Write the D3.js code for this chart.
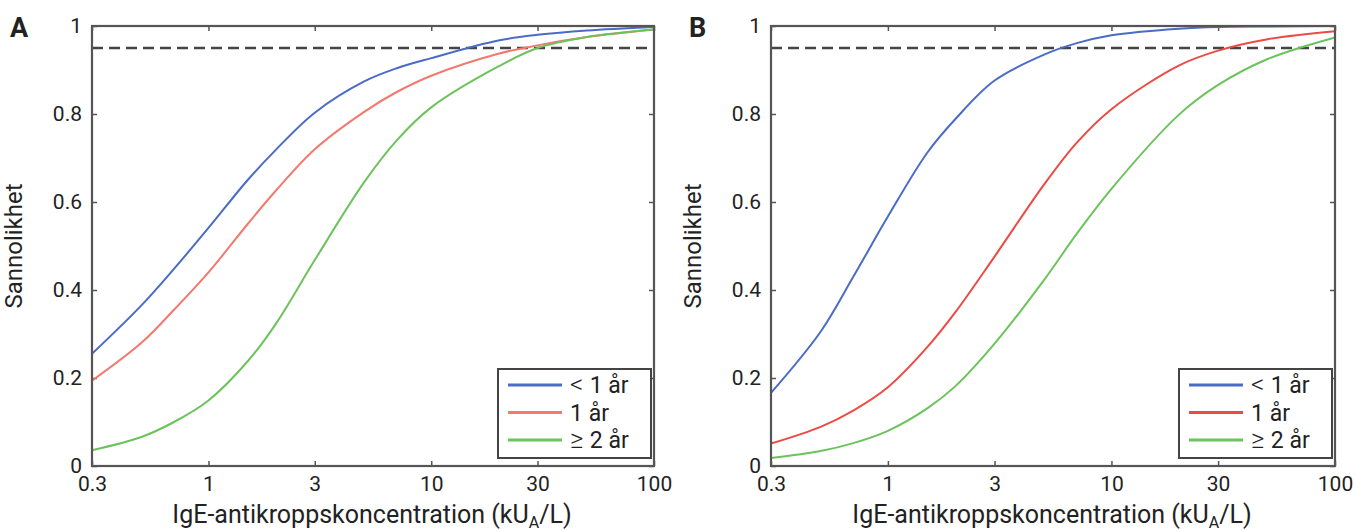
<!DOCTYPE html>
<html lang="sv">
<head>
    <meta charset="UTF-8">
    <title>Sannolikhet vs IgE</title>
    <script src="https://d3js.org/d3.v7.min.js"></script>
    <style type="text/css">
        body {
            margin: 0;
            background: #fff;
        }

        svg text {
            font-family: Roboto, "DejaVu Sans", sans-serif;
            fill: #222;
        }

        .tick line {
            stroke: #555;
            stroke-width: 1.5;
        }
    </style>
</head>

<body>
    <div id="chart"></div>
    <script type="text/javascript">
        // concentration points (kU_A/L)
        var conc = [0.3, 0.5, 0.7, 1, 1.5, 2, 3, 5, 7, 10, 20, 30, 50, 100];

        var seriesSymbols = ['<', '', '\u2265'];
        var seriesNames = ['1 år', '1 år', '2 år'];

        // panel A
        var aUnder1 = [0.255, 0.365, 0.448, 0.541, 0.650, 0.718, 0.803, 0.874, 0.904, 0.927, 0.967, 0.980, 0.990, 0.998];
        var aOne = [0.194, 0.280, 0.355, 0.440, 0.550, 0.625, 0.720, 0.805, 0.850, 0.887, 0.937, 0.956, 0.975, 0.992];
        var aTwoPlus = [0.036, 0.066, 0.100, 0.149, 0.238, 0.322, 0.468, 0.645, 0.740, 0.815, 0.908, 0.950, 0.975, 0.992];

        // panel B
        var bUnder1 = [0.166, 0.305, 0.430, 0.567, 0.712, 0.788, 0.876, 0.935, 0.961, 0.979, 0.994, 0.998, 0.999, 1.0];
        var bOne = [0.051, 0.089, 0.126, 0.179, 0.270, 0.349, 0.476, 0.640, 0.735, 0.811, 0.910, 0.944, 0.970, 0.988];
        var bTwoPlus = [0.018, 0.034, 0.052, 0.080, 0.131, 0.181, 0.278, 0.423, 0.528, 0.630, 0.798, 0.866, 0.925, 0.974];

        var xTicks = [0.3, 1, 3, 10, 30, 100];
        var xTickLabels = ['0.3', '1', '3', '10', '30', '100'];
        var yTicks = [0, 0.2, 0.4, 0.6, 0.8, 1];
        var yTickLabels = ['0', '0.2', '0.4', '0.6', '0.8', '1'];
        var threshold = 0.95;

        var w = 1356, h = 531;
        var svg = d3.select('#chart').append('svg')
            .attr('width', w)
            .attr('height', h);

        var panels = [
            { letter: 'A', left: 92, right: 654, series: [aUnder1, aOne, aTwoPlus],
              colors: ['#4a6cc6', '#f3786f', '#6cc35c'] },
            { letter: 'B', left: 771, right: 1335, series: [bUnder1, bOne, bTwoPlus],
              colors: ['#4a6cc6', '#ec4b45', '#6cc35c'] }
        ];
        var plotTop = 26, plotBottom = 466;

        panels.forEach(function (p) {
            var x = d3.scaleLog().domain([0.3, 100]).range([p.left, p.right]);
            var y = d3.scaleLinear().domain([0, 1]).range([plotBottom, plotTop]);
            var g = svg.append('g');

            // ticks on all four sides, pointing inward
            g.append('g')
                .attr('transform', 'translate(0,' + plotBottom + ')')
                .call(d3.axisBottom(x).tickValues(xTicks).tickSize(-5).tickPadding(10)
                    .tickFormat(function (d, i) { return xTickLabels[i]; }))
                .call(function (a) { a.select('.domain').remove(); })
                .selectAll('text').attr('font-size', 21).attr('fill', '#1a1a1a');

            g.append('g')
                .attr('transform', 'translate(0,' + plotTop + ')')
                .call(d3.axisTop(x).tickValues(xTicks).tickSize(-5).tickFormat(''))
                .call(function (a) { a.select('.domain').remove(); });

            g.append('g')
                .attr('transform', 'translate(' + p.left + ',0)')
                .call(d3.axisLeft(y).tickValues(yTicks).tickSize(-5).tickPadding(10)
                    .tickFormat(function (d, i) { return yTickLabels[i]; }))
                .call(function (a) { a.select('.domain').remove(); })
                .selectAll('text').attr('font-size', 21).attr('fill', '#1a1a1a');

            g.append('g')
                .attr('transform', 'translate(' + p.right + ',0)')
                .call(d3.axisRight(y).tickValues(yTicks).tickSize(-5).tickFormat(''))
                .call(function (a) { a.select('.domain').remove(); });

            // dashed 95% line
            g.append('line')
                .attr('x1', x(0.3)).attr('x2', x(100))
                .attr('y1', y(threshold)).attr('y2', y(threshold))
                .attr('stroke', '#444')
                .attr('stroke-width', 2.5)
                .attr('stroke-dasharray', '11,6');

            var line = d3.line()
                .x(function (d, i) { return x(conc[i]); })
                .y(function (d) { return y(d); })
                .curve(d3.curveCatmullRom.alpha(0.5));

            p.series.forEach(function (s, k) {
                g.append('path')
                    .datum(s)
                    .attr('d', line)
                    .attr('fill', 'none')
                    .attr('stroke', p.colors[k])
                    .attr('stroke-width', 2);
            });

            // frame
            g.append('rect')
                .attr('x', p.left).attr('y', plotTop)
                .attr('width', p.right - p.left).attr('height', plotBottom - plotTop)
                .attr('fill', 'none')
                .attr('stroke', '#555')
                .attr('stroke-width', 2.2);

            // legend
            var lx = p.right - 156, ly = 369;
            var lg = g.append('g').attr('transform', 'translate(' + lx + ',' + ly + ')');
            lg.append('rect')
                .attr('width', 153).attr('height', 89)
                .attr('fill', '#fff')
                .attr('stroke', '#444')
                .attr('stroke-width', 2);
            seriesNames.forEach(function (name, k) {
                var yy = 16 + k * 27.5;
                lg.append('line')
                    .attr('x1', 10).attr('x2', 64)
                    .attr('y1', yy).attr('y2', yy)
                    .attr('stroke', p.colors[k])
                    .attr('stroke-width', 3);
                var t = lg.append('text')
                    .attr('x', 72).attr('y', yy + 8)
                    .attr('font-size', 23)
                    .attr('fill', '#1a1a1a');
                if (seriesSymbols[k]) {
                    t.append('tspan').attr('font-weight', 300).attr('font-size', 26)
                        .text(seriesSymbols[k] + ' ');
                }
                t.append('tspan').text(name);
            });

            // axis titles
            var xt = g.append('text')
                .attr('x', (p.left + p.right) / 2 - 1)
                .attr('y', 523)
                .attr('text-anchor', 'middle')
                .attr('font-size', 25)
                .attr('fill', '#333');
            xt.append('tspan').text('IgE-antikroppskoncentration (kU');
            xt.append('tspan').attr('font-size', 16).attr('dy', 5).text('A');
            xt.append('tspan').attr('dy', -5).text('/L)');

            g.append('text')
                .attr('transform', 'translate(' + (p.left - 70) + ',' + ((plotTop + plotBottom) / 2) + ') rotate(-90)')
                .attr('text-anchor', 'middle')
                .attr('font-size', 24)
                .attr('fill', '#333')
                .text('Sannolikhet');

            g.append('text')
                .attr('x', p.left - 82)
                .attr('y', 37)
                .attr('font-size', 27)
                .attr('font-weight', 'bold')
                .attr('fill', '#222')
                .text(p.letter);
        });
    </script>
</body>

</html>
